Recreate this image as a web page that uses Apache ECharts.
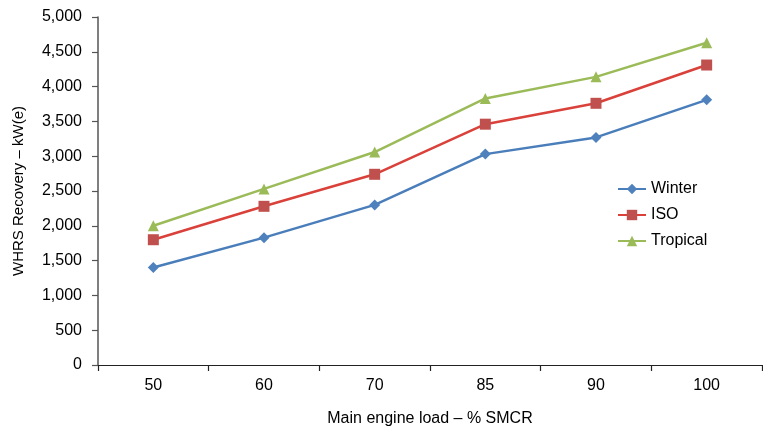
<!DOCTYPE html>
<html><head><meta charset="utf-8">
<script src="https://cdn.jsdelivr.net/npm/echarts@6/dist/echarts.min.js"></script>
<style>html,body{margin:0;padding:0;background:#fff}#c{width:763px;height:432px}</style>
</head><body><div id="c"></div>
<script>
const categories = ['50', '60', '70', '85', '90', '100'];
const winter = [1400, 1830, 2300, 3030, 3270, 3810];
const iso = [1800, 2280, 2740, 3460, 3760, 4310];
const tropical = [2000, 2530, 3060, 3830, 4140, 4630];
const yTicks = [0, 500, 1000, 1500, 2000, 2500, 3000, 3500, 4000, 4500, 5000];

const FONT = '"Liberation Sans Narrow", "Arial Narrow", "Liberation Sans", sans-serif';
const chart = echarts.init(document.getElementById('c'), null, {renderer: 'canvas'});
chart.setOption({
  animation: false,
  textStyle: {fontFamily: FONT},
  grid: {left: 98, right: 1, top: 17, bottom: 65},
  legend: {
    orient: 'vertical', left: 612, top: 176, itemGap: 10, itemWidth: 28, itemHeight: 13,
    textStyle: {fontFamily: FONT, fontSize: 16, color: '#000'},
    data: ['Winter', 'ISO', 'Tropical']
  },
  xAxis: {
    type: 'category', data: categories, boundaryGap: true,
    name: 'Main engine load – % SMCR', nameLocation: 'middle', nameGap: 46,
    nameTextStyle: {fontFamily: FONT, fontSize: 16, color: '#000'},
    axisLine: {lineStyle: {color: '#222', width: 1.2}},
    axisTick: {show: true, length: 6, lineStyle: {color: '#222', width: 1.2}},
    axisLabel: {fontFamily: FONT, fontSize: 16, color: '#000', margin: 13},
    splitLine: {show: false}
  },
  yAxis: {
    type: 'value', min: 0, max: 5000, interval: 500,
    name: 'WHRS Recovery – kW(e)', nameLocation: 'middle', nameGap: 72, nameRotate: 90,
    nameTextStyle: {fontFamily: FONT, fontSize: 15, color: '#000'},
    axisLine: {show: true, lineStyle: {color: '#555', width: 1.5}},
    axisTick: {show: true, length: 6, lineStyle: {color: '#555', width: 1.2}},
    axisLabel: {fontFamily: FONT, fontSize: 16, color: '#000', margin: 16,
      formatter: v => yTicks.includes(v) ? v.toLocaleString('en-US') : ''},
    splitLine: {show: false}
  },
  series: [
    {name: 'Winter', type: 'line', data: winter, symbol: 'diamond', symbolSize: 11,
     lineStyle: {color: '#4A7EBB', width: 2.5}, itemStyle: {color: '#4F81BD'}},
    {name: 'ISO', type: 'line', data: iso, symbol: 'rect', symbolSize: 11,
     lineStyle: {color: '#D9413A', width: 2.5}, itemStyle: {color: '#C0504D'}},
    {name: 'Tropical', type: 'line', data: tropical, symbol: 'triangle', symbolSize: 11,
     lineStyle: {color: '#9BBB59', width: 2.5}, itemStyle: {color: '#9BBB59'}}
  ]
});
</script></body></html>
